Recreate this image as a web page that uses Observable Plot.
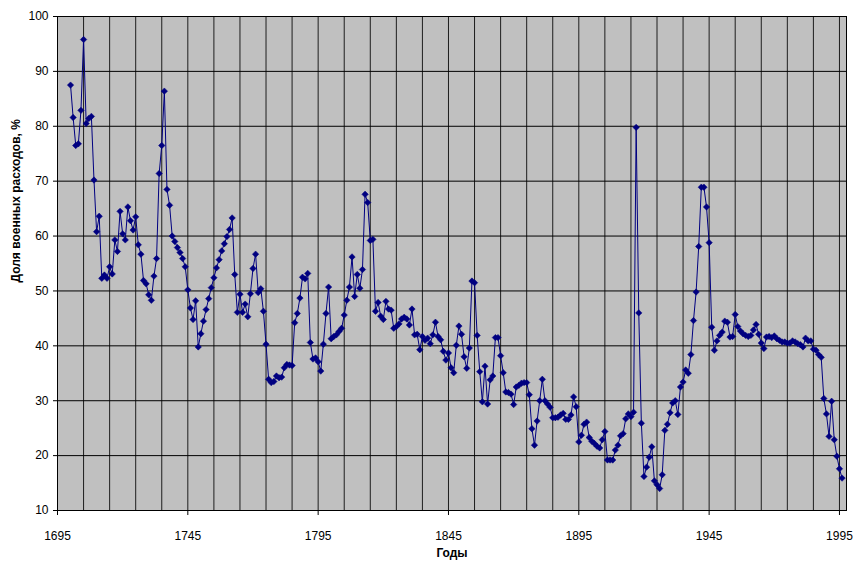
<!DOCTYPE html>
<html>
<head>
<meta charset="utf-8">
<script src="https://cdn.jsdelivr.net/npm/d3@7"></script>
<script src="https://cdn.jsdelivr.net/npm/@observablehq/plot@0.6"></script>
<style>
  html, body { margin: 0; padding: 0; background: #fff; }
</style>
</head>
<body>
<div id="chart"></div>
<script>
// Years 1700..1996 (one value per year)
const firstYear = 1700;
const values = [
  87.5, 81.6, 76.5, 76.8, 82.9, 95.8, 80.5, 81.4, 81.8, 70.2,   // 1700-1709
  60.8, 63.6, 52.3, 52.9, 52.3, 54.4, 53.1, 59.3, 57.2, 64.5,   // 1710-1719
  60.4, 59.3, 65.3, 62.8, 61.1, 63.5, 58.4, 56.7, 51.9, 51.3,   // 1720-1729
  49.3, 48.3, 52.7, 55.9, 71.4, 76.5, 86.4, 68.5, 65.6, 60.0,   // 1730-1739
  59.0, 57.9, 57.0, 55.9, 54.4, 50.2, 46.9, 44.8, 48.2, 39.8,   // 1740-1749
  42.2, 44.5, 46.6, 48.6, 50.6, 52.4, 54.2, 55.7, 57.3, 58.6,   // 1750-1759
  59.9, 61.2, 63.3, 53.0, 46.1, 49.4, 46.1, 47.6, 45.3, 49.5,   // 1760-1769
  54.1, 56.7, 49.7, 50.4, 46.3, 40.3, 33.9, 33.3, 33.5, 34.5,   // 1770-1779
  34.2, 34.3, 36.0, 36.6, 36.5, 36.4, 44.2, 45.9, 48.7, 52.5,   // 1780-1789
  52.2, 53.2, 40.6, 37.6, 37.8, 37.1, 35.4, 40.3, 45.9, 50.7,   // 1790-1799
  41.3, 41.7, 42.0, 42.6, 43.2, 45.6, 48.3, 50.7, 56.2, 49.0,   // 1800-1809
  53.0, 50.5, 53.9, 67.6, 66.1, 59.2, 59.4, 46.3, 47.9, 45.4,   // 1810-1819
  44.8, 48.1, 46.7, 46.5, 43.2, 43.5, 44.0, 44.9, 45.2, 44.9,   // 1820-1829
  43.8, 46.7, 42.0, 42.1, 39.3, 41.7, 41.0, 41.4, 40.4, 42.0,   // 1830-1839
  44.3, 41.7, 41.1, 39.0, 37.4, 38.7, 36.0, 35.1, 40.1, 43.6,   // 1840-1849
  42.1, 38.0, 35.9, 39.6, 51.8, 51.5, 41.9, 35.3, 29.8, 36.3,   // 1850-1859
  29.4, 33.8, 34.5, 41.5, 41.5, 38.2, 35.1, 31.6, 31.5, 31.2,   // 1860-1869
  29.3, 32.5, 32.8, 33.2, 33.3, 33.3, 31.1, 24.9, 21.9, 26.3,   // 1870-1879
  30.0, 33.9, 30.0, 29.4, 28.8, 26.9, 26.9, 27.0, 27.4, 27.7,   // 1880-1889
  26.6, 26.6, 27.4, 30.7, 28.9, 22.5, 23.7, 25.7, 26.1, 23.3,   // 1890-1899
  22.6, 22.2, 21.7, 21.4, 22.9, 24.4, 19.2, 19.2, 19.2, 21.0,   // 1900-1909
  21.9, 23.6, 24.0, 26.7, 27.6, 27.1, 27.9, 79.8, 46.0, 25.9,   // 1910-1919
  16.2, 17.9, 19.7, 21.6, 15.4, 14.7, 14.0, 16.5, 24.6, 25.7,   // 1920-1929
  27.8, 29.6, 30.0, 27.5, 32.5, 33.4, 35.6, 35.0, 38.4, 44.6,   // 1930-1939
  49.8, 58.1, 68.9, 68.9, 65.3, 58.8, 43.4, 39.2, 40.9, 41.9,   // 1940-1949
  42.5, 44.5, 44.3, 41.6, 41.7, 45.7, 43.5, 42.7, 42.2, 41.9,   // 1950-1959
  41.7, 41.9, 42.9, 43.9, 42.1, 40.5, 39.5, 41.6, 41.7, 41.5,   // 1960-1969
  41.8, 41.3, 41.0, 40.7, 40.7, 40.5, 40.5, 40.9, 40.7, 40.4,   // 1970-1979
  40.2, 39.8, 41.4, 40.9, 40.9, 39.4, 39.2, 38.4, 37.9, 30.4,   // 1980-1989
  27.6, 23.5, 29.9, 22.9, 19.9, 17.6, 15.9                      // 1990-1996
];
const years = values.map((_, i) => firstYear + i);
const xTickLabels = [1695, 1745, 1795, 1845, 1895, 1945, 1995];
const xGrid = [1695, 1705, 1715, 1725, 1735, 1745, 1755, 1765, 1775, 1785, 1795,
               1805, 1815, 1825, 1835, 1845, 1855, 1865, 1875, 1885, 1895,
               1905, 1915, 1925, 1935, 1945, 1955, 1965, 1975, 1985, 1995];
const yTicks = [10, 20, 30, 40, 50, 60, 70, 80, 90, 100];
const xTitle = "Годы";
const yTitle = "Доля военных расходов, %";

const data = years.map((year, i) => ({year, value: values[i]}));

const navy = "#000080";

const chart = Plot.plot({
  width: 853,
  height: 562,
  marginLeft: 57,
  marginRight: 7,
  marginTop: 16,
  marginBottom: 52,
  style: {
    fontFamily: "Arial, 'Liberation Sans', sans-serif",
    fontSize: "12px",
    background: "#fff",
    color: "#000"
  },
  x: {domain: [1695, 1997.7]},
  y: {domain: [10, 100]},
  marks: [
    Plot.frame({fill: "#c0c0c0"}),
    Plot.gridX(xGrid, {stroke: "#000", strokeOpacity: 0.85, strokeWidth: 1}),
    Plot.gridY(yTicks, {stroke: "#000", strokeOpacity: 1, strokeWidth: 1}),
    Plot.line(data, {x: "year", y: "value", stroke: navy, strokeWidth: 1}),
    Plot.dot(data, {x: "year", y: "value", symbol: "diamond2", r: 2.9, fill: navy, stroke: navy, strokeWidth: 0.5}),
    Plot.frame({stroke: "#000", strokeWidth: 1}),
    Plot.axisX(xTickLabels, {
      tickSize: 5, tickPadding: 16, tickFormat: d => String(d),
      fontSize: 12, label: null, stroke: "#000"
    }),
    Plot.axisY(yTicks, {
      tickSize: 4, tickPadding: 5, tickFormat: d => String(d),
      fontSize: 12, label: null, stroke: "#000"
    }),
    Plot.text([yTitle], {
      frameAnchor: "left", dx: -41, dy: 19, rotate: -90,
      fontWeight: "bold", fontSize: 12, fill: "#000"
    }),
    Plot.text([xTitle], {
      frameAnchor: "bottom", dy: 46,
      fontWeight: "bold", fontSize: 12, fill: "#000"
    })
  ]
});

document.getElementById("chart").appendChild(chart);
</script>
</body>
</html>
